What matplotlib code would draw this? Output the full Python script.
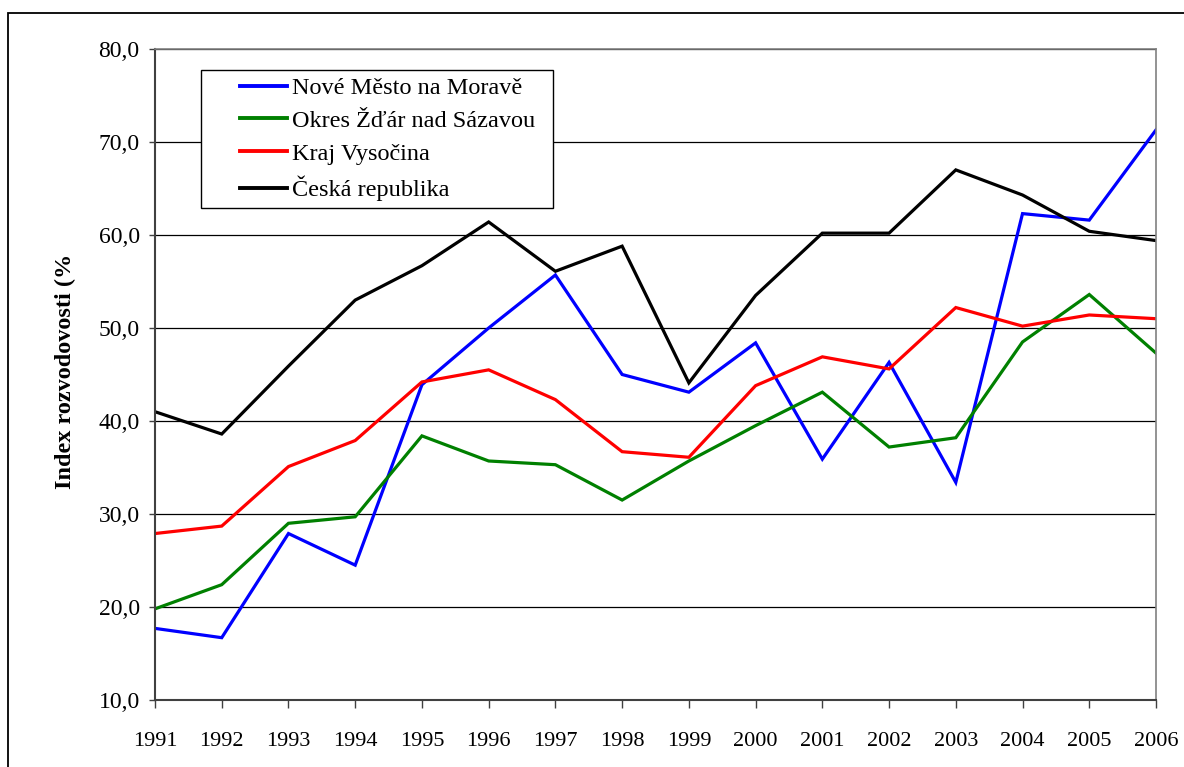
import matplotlib
matplotlib.use("Agg")
import matplotlib.pyplot as plt
from matplotlib.patches import Rectangle
from matplotlib.ticker import FuncFormatter

years = [1991, 1992, 1993, 1994, 1995, 1996, 1997, 1998, 1999, 2000, 2001, 2002, 2003, 2004, 2005, 2006]
nove_mesto = [17.7, 16.7, 27.9, 24.5, 43.9, 50.0, 55.7, 45.0, 43.1, 48.4, 35.9, 46.3, 33.4, 62.3, 61.6, 71.3]
okres_zdar = [19.8, 22.4, 29.0, 29.7, 38.4, 35.7, 35.3, 31.5, 35.7, 39.5, 43.1, 37.2, 38.2, 48.5, 53.6, 47.3]
kraj_vysocina = [27.9, 28.7, 35.1, 37.9, 44.2, 45.5, 42.3, 36.7, 36.1, 43.8, 46.9, 45.6, 52.2, 50.2, 51.4, 51.0]
ceska_republika = [41.0, 38.6, 45.9, 53.0, 56.7, 61.4, 56.1, 58.8, 44.1, 53.5, 60.2, 60.2, 67.0, 64.3, 60.4, 59.4]

series_names = ["Nové Město na Moravě", "Okres Žďár nad Sázavou", "Kraj Vysočina", "Česká republika"]
series_values = [nove_mesto, okres_zdar, kraj_vysocina, ceska_republika]
series_colors = ["#0000FF", "#008000", "#FF0000", "#000000"]
y_ticks = [10, 20, 30, 40, 50, 60, 70, 80]
y_label = "Index rozvodovosti (%"

plt.rcParams['font.family'] = ['Liberation Serif', 'DejaVu Serif']

W, H = 1184, 767
fig = plt.figure(figsize=(W / 100, H / 100), dpi=100)

# outer border (extends beyond the canvas on right/bottom)
fig.patches.append(Rectangle((8 / W, -0.1), 1.2, 1 - 12.5 / H + 0.1, transform=fig.transFigure,
                             fill=False, edgecolor="black", linewidth=1.3))

left, right, top, bottom = 155, 1156, 49, 700
ax = fig.add_axes([left / W, 1 - bottom / H, (right - left) / W, (bottom - top) / H])

for name, vals, col in zip(series_names, series_values, series_colors):
    ax.plot(years, vals, color=col, linewidth=2.3, label=name, solid_joinstyle="miter")

ax.set_xlim(years[0], years[-1])
ax.set_ylim(y_ticks[0], y_ticks[-1])
ax.set_xticks(years)
ax.set_yticks(y_ticks)
ax.yaxis.set_major_formatter(FuncFormatter(lambda v, p: f"{v:.1f}".replace(".", ",")))
ax.grid(axis="y", color="black", linewidth=0.9)
ax.set_axisbelow(True)

for s in ["top", "right"]:
    ax.spines[s].set_color("#808080")
    ax.spines[s].set_linewidth(1.2)
for s in ["left", "bottom"]:
    ax.spines[s].set_color("#404040")
    ax.spines[s].set_linewidth(1.5)

ax.tick_params(axis="y", direction="out", length=4, width=1, pad=7, labelsize=17, colors="#404040", labelcolor="black")
ax.tick_params(axis="x", direction="out", length=6, width=1, pad=17, labelsize=16, colors="#404040", labelcolor="black")

fig.text(65 / W, 1 - 371 / H, y_label, rotation=90, ha="center", va="center",
         fontsize=17.5, fontweight="bold")

# legend frame drawn separately for exact padding
frame = Rectangle((201 / W, 1 - 208 / H), (553 - 201) / W, (208 - 70) / H,
                  transform=fig.transFigure, fill=True, facecolor="white",
                  edgecolor="black", linewidth=1.0, zorder=5, clip_on=False)
ax.add_patch(frame)
leg = ax.legend(loc="upper left", bbox_to_anchor=((240 - left) / (right - left), 1 - (77 - top) / (bottom - top)),
                frameon=False, fontsize=17.5, handlelength=1.95, handletextpad=0.18,
                borderpad=0, labelspacing=0.45, borderaxespad=0)
leg.set_zorder(6)
for line in leg.get_lines():
    line.set_linewidth(2.8)

fig.savefig("out.png", dpi=100)
